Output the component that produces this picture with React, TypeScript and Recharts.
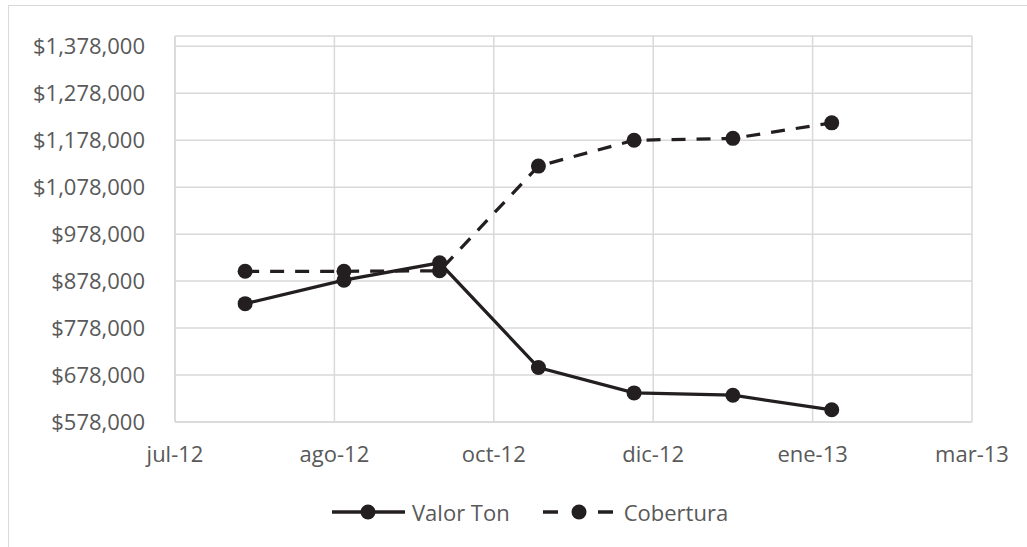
import { LineChart, Line, XAxis, YAxis, CartesianGrid } from 'recharts';

// fechas de cierre de mes y valores de cada serie
const fechas = ['2012-07-31', '2012-08-31', '2012-09-30', '2012-10-31', '2012-11-30', '2012-12-31', '2013-01-31'];
const valorTon = [830000, 880000, 917000, 694000, 640000, 635000, 604000];
const cobertura = [899000, 899000, 900000, 1123000, 1178000, 1182000, 1215000];

// eje X en días desde el inicio del eje (unidad mayor de 50 días)
const inicioEje = '2012-07-09';
const xTicks = [0, 50, 100, 150, 200, 250];
const xTickLabels = ['jul-12', 'ago-12', 'oct-12', 'dic-12', 'ene-13', 'mar-13'];

const yTicks = [578000, 678000, 778000, 878000, 978000, 1078000, 1178000, 1278000, 1378000];
const yDomain = [578000, 1400000];

const seriesNames = ['Valor Ton', 'Cobertura'];

const DIA = 86400000;
const data = fechas.map((f, i) => ({
  dia: Math.round((Date.parse(f) - Date.parse(inicioEje)) / DIA),
  valor: valorTon[i],
  cobertura: cobertura[i],
}));

const LINE = '#231f20';
const GRID = '#d9d9d9';
const TEXT = '#595959';
const FONT = '"Open Sans", sans-serif';

const formatMoney = (v: number) => '$' + v.toLocaleString('en-US');

const LegendItem = ({ label, dashed }: { label: string; dashed?: boolean }) => (
  <div style={{ display: 'flex', alignItems: 'center' }}>
    <svg width={74} height={20} style={{ overflow: 'visible' }}>
      {dashed ? (
        <>
          <line x1={0} y1={10} x2={15} y2={10} stroke={LINE} strokeWidth={3.5} />
          <line x1={55} y1={10} x2={70} y2={10} stroke={LINE} strokeWidth={3.5} />
          <circle cx={36} cy={10} r={7.5} fill={LINE} />
        </>
      ) : (
        <>
          <line x1={0} y1={10} x2={73} y2={10} stroke={LINE} strokeWidth={3.5} />
          <circle cx={36} cy={10} r={7.5} fill={LINE} />
        </>
      )}
    </svg>
    <span style={{ marginLeft: dashed ? 7 : 6, fontSize: 22, color: TEXT, lineHeight: '22px' }}>{label}</span>
  </div>
);

export default function App() {
  return (
    <div
      style={{
        position: 'absolute',
        left: 0,
        top: 0,
        width: 1027,
        height: 547,
        overflow: 'hidden',
        background: '#fff',
        fontFamily: FONT,
      }}
    >
      {/* marco del área del gráfico */}
      <div
        style={{
          position: 'absolute',
          left: 8,
          top: 5,
          width: 1100,
          height: 600,
          borderLeft: `1.5px solid ${GRID}`,
          borderTop: `1.5px solid ${GRID}`,
        }}
      />
      <div style={{ position: 'absolute', left: 0, top: 0 }}>
        <LineChart width={1027} height={547} data={data} margin={{ top: 36, right: 55, left: 15, bottom: 65 }}>
          <CartesianGrid stroke={GRID} strokeWidth={1.5} />
          <XAxis
            dataKey="dia"
            type="number"
            domain={[0, 250]}
            ticks={xTicks}
            interval={0}
            tickFormatter={(v) => xTickLabels[xTicks.indexOf(v)]}
            axisLine={{ stroke: GRID, strokeWidth: 1.5 }}
            tickLine={false}
            tickMargin={18}
            height={60}
            tick={{ fill: TEXT, fontSize: 22, fontFamily: FONT }}
          />
          <YAxis
            type="number"
            domain={yDomain}
            ticks={yTicks}
            interval={0}
            allowDataOverflow
            tickFormatter={formatMoney}
            axisLine={{ stroke: GRID, strokeWidth: 1.5 }}
            tickLine={false}
            tickMargin={24}
            width={160}
            tick={{ fill: TEXT, fontSize: 22, fontFamily: FONT }}
          />
          <Line
            dataKey="valor"
            name={seriesNames[0]}
            type="linear"
            stroke={LINE}
            strokeWidth={3.25}
            dot={{ r: 7.5, fill: LINE, stroke: 'none' }}
            activeDot={false}
            isAnimationActive={false}
          />
          <Line
            dataKey="cobertura"
            name={seriesNames[1]}
            type="linear"
            stroke={LINE}
            strokeWidth={3.25}
            strokeDasharray="14 11"
            dot={{ r: 7.5, fill: LINE, stroke: 'none', strokeDasharray: '0' }}
            activeDot={false}
            isAnimationActive={false}
          />
        </LineChart>
      </div>
      {/* leyenda */}
      <div
        style={{
          position: 'absolute',
          top: 501,
          left: 332,
          display: 'flex',
          alignItems: 'center',
          gap: 33,
        }}
      >
        <LegendItem label={seriesNames[0]} />
        <LegendItem label={seriesNames[1]} dashed />
      </div>
    </div>
  );
}
